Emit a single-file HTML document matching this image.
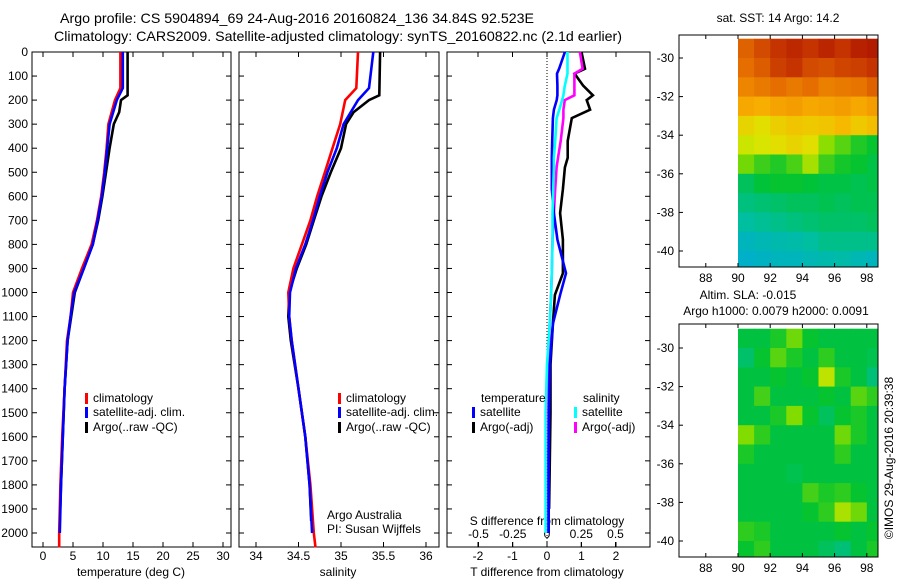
<!DOCTYPE html>
<html><head><meta charset="utf-8"><style>
html,body{margin:0;padding:0;background:#fff;}
svg{display:block;font-family:"Liberation Sans",sans-serif;font-size:12px;}
</style></head><body>
<svg id="fig" width="900" height="580" viewBox="0 0 900 580" xmlns="http://www.w3.org/2000/svg">
<rect width="900" height="580" fill="#fff"/>
<text x="60" y="23" textLength="474" lengthAdjust="spacingAndGlyphs" style="font-size:14px">Argo profile: CS 5904894_69 24-Aug-2016 20160824_136 34.84S 92.523E</text>
<text x="54" y="41" textLength="568" lengthAdjust="spacingAndGlyphs" style="font-size:14px">Climatology: CARS2009. Satellite-adjusted climatology: synTS_20160822.nc (2.1d earlier)</text>
<g id="g"></g>
<text x="778" y="22" text-anchor="middle">sat. SST: 14 Argo: 14.2</text>
<text x="748" y="299" text-anchor="middle">Altim. SLA: -0.015</text>
<text x="776" y="315" text-anchor="middle">Argo h1000: 0.0079 h2000: 0.0091</text>
<text transform="translate(893,458) rotate(-90)" text-anchor="middle">©IMOS 29-Aug-2016 20:39:38</text>
<text x="327" y="519">Argo Australia</text>
<text x="327" y="533">PI: Susan Wijffels</text>
</svg>
<script>
// ---- profile data ----
const depthClim = [0,150,200,300,400,500,600,700,800,900,1000,1100,1200,1400,1600,1800,2000,2060];
const depthSat  = [0,150,200,300,400,500,600,700,800,900,1000,1100,1200,1400,1600,1800,2000];
const depthArgo = [0,180,200,250,300,400,500,600,700,800,900,1000,1100,1200,1400,1600,1800,1950];
const tempClim = [12.9,12.9,12.0,10.9,10.6,10.2,9.7,9.0,8.1,6.5,5.0,4.6,4.0,3.6,3.2,2.9,2.7,2.7];
const tempSat  = [13.3,13.3,12.3,11.1,10.7,10.3,9.8,9.1,8.3,6.8,5.2,4.6,4.1,3.6,3.3,3.0,2.8];
const tempArgo = [14.1,14.1,13.0,12.7,11.8,11.1,10.5,9.9,9.2,8.3,6.8,5.3,4.7,4.1,3.6,3.3,3.0,2.8];
const salClim = [35.2,35.18,35.05,34.99,34.9,34.81,34.72,34.64,34.54,34.44,34.38,34.39,34.42,34.5,34.58,34.64,34.68,34.7];
const salSat  = [35.38,35.33,35.2,35.03,34.95,34.84,34.75,34.67,34.58,34.47,34.4,34.39,34.42,34.5,34.58,34.63,34.66];
const salArgo = [35.46,35.45,35.33,35.15,35.06,35.0,34.88,34.77,34.68,34.59,34.48,34.39,34.38,34.41,34.5,34.58,34.63,34.65];
const depthDiff = [0,70,90,140,180,200,240,275,370,440,480,570,670,780,920,1010,1130,1300,1500,1700,1900,2000];
const dTsat  = [0.52,0.35,0.29,0.3,0.3,0.28,0.2,0.17,0.15,0.14,0.14,0.14,0.2,0.3,0.55,0.38,0.17,0.08,0.06,0.05,0.05,0.05];
const dTargo = [1.0,1.1,0.8,1.05,1.33,1.15,1.25,0.72,0.6,0.6,0.52,0.46,0.38,0.46,0.46,0.23,0.17,0.1,0.1,0.08,0.06,0.06];
const dSsat  = [0.15,0.15,0.15,0.13,0.12,0.11,0.09,0.07,0.06,0.05,0.05,0.045,0.04,0.04,0.035,0.03,0.02,0.0,-0.01,-0.01,-0.01,-0.01];
const dSargo = [0.24,0.26,0.2,0.2,0.2,0.13,0.12,0.12,0.1,0.08,0.07,0.06,0.05,0.04,0.035,0.03,0.02,0.01,0.01,0.01,0.01,0.01];
const depthTicks = [0,100,200,300,400,500,600,700,800,900,1000,1100,1200,1300,1400,1500,1600,1700,1800,1900,2000];
const tempTicks = [0,5,10,15,20,25,30];
const salTicks = [34,34.5,35,35.5,36];
const tdTicks = [-2,-1,0,1,2];
const sdTicks = [-0.5,-0.25,0,0.25,0.5];
const sdTickLabels = ["-0.5","-0.25","0","0.25","0.5"];
// ---- map data ----
const mapLons = [90,91,92,93,94,95,96,97,98];
const mapLats = [-29,-30,-31,-32,-33,-34,-35,-36,-37,-38,-39,-40];
const sstGrid = [
[17.8,18.2,18.6,18.8,18.6,18.9,18.6,19,19.2],
[17.6,17.9,18.4,18.6,18.2,18.1,18.3,18.4,18.6],
[17.2,17.4,17.6,17.4,17.6,17.3,17.4,17.5,17.8],
[16.6,16.5,16.7,16.8,16.6,16.7,16.8,16.6,16.8],
[15.8,15.6,15.9,16.1,16.0,16.1,16.3,16.0,16.2],
[15.3,15.4,15.6,15.8,15.6,14.8,14.4,14.0,13.8],
[14.6,14.2,14.0,14.3,15.0,14.2,13.9,13.8,13.6],
[13.4,13.7,13.8,13.8,13.7,13.6,13.6,13.5,13.6],
[13.1,13.2,13.3,13.4,13.4,13.5,13.4,13.5,13.5],
[12.8,12.9,13.0,13.1,13.2,13.3,13.3,13.3,13.4],
[12.4,12.5,12.6,12.7,12.8,13.0,13.0,13.0,13.0],
[12.2,12.3,12.4,12.4,12.5,12.6,12.7,12.5,12.4]];
const slaGrid = [
[0.00,0.02,0.04,0.08,0.03,0.00,0.02,0.01,0.00],
[-0.03,0.03,0.07,0.04,0.02,0.05,0.02,0.00,-0.01],
[0.01,0.02,0.03,0.01,0.03,0.12,0.04,0.02,-0.04],
[0.01,0.06,0.02,0.00,0.02,0.03,0.02,0.07,0.05],
[0.02,0.01,0.04,0.09,0.03,-0.02,0.03,0.04,0.02],
[0.09,0.05,0.01,0.02,0.01,0.00,0.08,0.04,0.01],
[0.04,0.02,0.00,0.01,0.01,0.00,0.05,0.02,0.00],
[0.00,0.01,0.00,-0.01,0.02,0.01,0.00,0.00,0.01],
[0.01,0.00,0.01,0.02,0.06,0.04,0.05,0.03,0.00],
[0.02,0.01,0.00,0.01,0.03,0.05,0.11,0.08,0.02],
[0.05,0.04,0.01,0.00,0.01,0.02,0.03,0.02,0.03],
[0.03,0.05,0.02,0.01,0.00,-0.02,-0.04,0.01,0.04]];
const latTicks = [-30,-32,-34,-36,-38,-40];
const lonTicks = [88,90,92,94,96,98];

const NS='http://www.w3.org/2000/svg';
const G=document.getElementById('g');
function mk(tag,attrs,parent){const e=document.createElementNS(NS,tag);for(const k in attrs)e.setAttribute(k,attrs[k]);(parent||G).appendChild(e);return e;}
function txt(x,y,s,anchor,parent){const t=mk('text',{x:x,y:y,'text-anchor':anchor||'middle'},parent);t.textContent=s;return t;}

const TOP=52, BOT=547;
const yD = d => TOP + d*0.2405;
const xT = v => 43 + v*6;
const xS = v => 256 + (v-34)*85;
const xTD = v => 547 + v*34.5;
const xSD = v => 547 + v*137;
const panels=[[32,231,'temperature-panel'],[239,439,'salinity-panel'],[447,650,'difference-panel']];

panels.forEach(p=>{
  const r=mk('rect',{x:p[0],y:TOP,width:p[1]-p[0],height:BOT-TOP,fill:'none',stroke:'#000','stroke-width':1});
  
  
  depthTicks.forEach(d=>{
    const y=yD(d);
    mk('line',{x1:p[0],x2:p[0]+5,y1:y,y2:y,stroke:'#000'});
    mk('line',{x1:p[1],x2:p[1]-5,y1:y,y2:y,stroke:'#000'});
  });
});
depthTicks.forEach(d=>{
  const t=txt(28,yD(d)+4,String(d),'end');
  
  
});
function xticks(vals,labels,sc,top,bottom,ly){
  vals.forEach((v,i)=>{
    const x=sc(v);
    if(top) mk('line',{x1:x,x2:x,y1:TOP,y2:TOP+5,stroke:'#000'});
    if(bottom) mk('line',{x1:x,x2:x,y1:BOT,y2:BOT-5,stroke:'#000'});
    if(ly){const t=txt(x,ly,labels[i]);
      
      }
  });
}
xticks(tempTicks,tempTicks.map(String),xT,true,true,560);
xticks(salTicks,salTicks.map(String),xS,true,true,560);
xticks(tdTicks,tdTicks.map(String),xTD,true,true,560);
xticks(sdTicks,sdTickLabels,xSD,false,true,538);
let t;
t=txt(131,576,'temperature (deg C)');


t=txt(338,576,'salinity');


t=txt(547,576,'T difference from climatology');


t=txt(547,525,'S difference from climatology');


mk('line',{x1:547,x2:547,y1:TOP,y2:BOT,stroke:'#000','stroke-dasharray':'1,2'});

function line(depths,vals,sc,color,name){
  const pts=depths.map((d,i)=>sc(vals[i]).toFixed(1)+','+yD(d).toFixed(1)).join(' ');
  const pl=mk('polyline',{points:pts,fill:'none',stroke:color,'stroke-width':2.6,'stroke-linejoin':'miter'});
  
  
}
line(depthArgo,tempArgo,xT,'#000','temp-argo-line');
line(depthClim,tempClim,xT,'#f00','temp-climatology-line');
line(depthSat,tempSat,xT,'#00f','temp-satellite-line');
line(depthArgo,salArgo,xS,'#000','sal-argo-line');
line(depthClim,salClim,xS,'#f00','sal-climatology-line');
line(depthSat,salSat,xS,'#00f','sal-satellite-line');
line(depthDiff.slice(0,21),dTargo.slice(0,21),xTD,'#000','t-diff-argo-line');
line(depthDiff,dSargo,xSD,'#f0f','s-diff-argo-line');
line(depthDiff,dTsat,xTD,'#00f','t-diff-satellite-line');
line(depthDiff,dSsat,xSD,'#0ff','s-diff-satellite-line');

function legendEntry(x,y,color,label){
  const g=mk('g',{});
  
  
  mk('rect',{x:x,y:y-9,width:3,height:11,fill:color},g);
  txt(x+8,y,label,'start',g);
}
[[85,'climatology','#f00',402],[85,'satellite-adj. clim.','#00f',416],[85,'Argo(..raw -QC)','#000',431]].forEach(e=>legendEntry(e[0],e[3],e[2],e[1]));
[[338,'climatology','#f00',402],[338,'satellite-adj. clim.','#00f',416],[338,'Argo(..raw -QC)','#000',431]].forEach(e=>legendEntry(e[0],e[3],e[2],e[1]));
t=txt(481,402,'temperature','start');


t=txt(583,402,'salinity','start');


legendEntry(472,416,'#00f','satellite');
legendEntry(472,431,'#000','Argo(-adj)');
legendEntry(574,416,'#0ff','satellite');
legendEntry(574,431,'#f0f','Argo(-adj)');

// ---- maps ----
const stops=[[0.3,[0,160,240]],[0.4,[0,190,160]],[0.48,[0,195,50]],[0.56,[130,220,0]],[0.62,[220,230,0]],[0.7,[250,180,0]],[0.8,[230,110,0]],[0.9,[190,40,0]],[1.0,[150,0,0]]];
function cmap(t){
  if(t<=stops[0][0])return 'rgb('+stops[0][1]+')';
  for(let i=1;i<stops.length;i++){if(t<=stops[i][0]){const a=stops[i-1],b=stops[i],f=(t-a[0])/(b[0]-a[0]);
    return 'rgb('+a[1].map((c,k)=>Math.round(c+(b[1][k]-c)*f)).join(',')+')';}}
  return 'rgb('+stops[stops.length-1][1]+')';
}
function drawMap(m,grid,toT,name){
  const xL=lon=>738+(lon-90)*16.1;
  const yL=lat=>m.y30+(-30-lat)*m.sy;
  const g=mk('g',{});
  
  
  grid.forEach((row,r)=>row.forEach((v,c)=>{
    const x0=xL(mapLons[c]),x1=Math.min(xL(mapLons[c]+1),m.right);
    const y0=Math.max(yL(mapLats[r]),m.top),y1=Math.min(yL(mapLats[r]-1),m.bottom);
    const cell=mk('rect',{x:x0,y:y0,width:x1-x0+0.5,height:y1-y0+0.5,fill:cmap(toT(v))},g);
    
    
  }));
  mk('rect',{x:679,y:m.top,width:m.right-679,height:m.bottom-m.top,fill:'none',stroke:'#000'});
  latTicks.forEach(l=>{const y=yL(l);mk('line',{x1:679,x2:683,y1:y,y2:y,stroke:'#000'});
    const tt=txt(674,y+4,String(l),'end');
    
    });
  lonTicks.forEach(l=>{const x=xL(l);mk('line',{x1:x,x2:x,y1:m.bottom,y2:m.bottom-4,stroke:'#000'});
    mk('line',{x1:x,x2:x,y1:m.top,y2:m.top+4,stroke:'#000'});
    const tt=txt(x,m.bottom+15,String(l));
    
    });
}
drawMap({top:35,bottom:267,right:878,y30:58,sy:19.3},sstGrid,v=>(v-8)/12,'sst-map');
drawMap({top:324,bottom:557,right:878,y30:348,sy:19.3},slaGrid,v=>0.47+Math.max(v-0.02,0)*1.3+Math.min(v,0)*1.0,'sla-map');
</script>
</body></html>
